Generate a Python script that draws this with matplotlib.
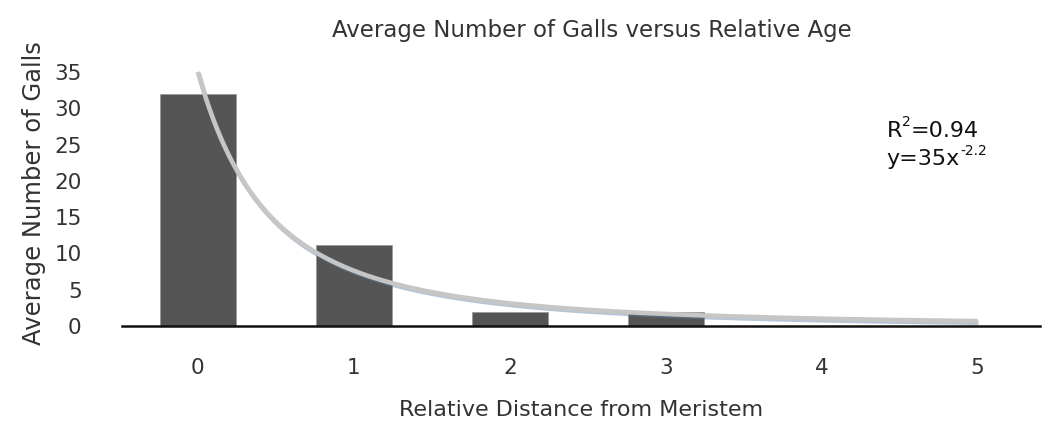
import numpy as np
import matplotlib
matplotlib.use("Agg")
import matplotlib.pyplot as plt
import matplotlib.patheffects as pe

categories = [0, 1, 2, 3, 4, 5]
avg_galls = [32.0, 11.2, 1.9, 1.9, 0.0, 0.0]
y_ticks = [0, 5, 10, 15, 20, 25, 30, 35]

# power trendline y = a * x^b (Excel style, x = category position 1..6)
fit_a = 35
fit_b = "-2.2"
r_squared = "0.94"

plt.rcParams["font.family"] = ["DejaVu Sans"]

fig = plt.figure(figsize=(10.48, 4.24), dpi=100)
ax = fig.add_axes([0.1164, 0.2311, 0.876, 0.625])

ax.bar(categories, avg_galls, width=0.49, color="#555555",
       edgecolor="#9a9a9a", linewidth=0.6, zorder=2)

x_fit = np.linspace(categories[0], categories[-1], 200)
y_fit = fit_a * (x_fit + 1) ** float(fit_b)
ax.plot(x_fit, y_fit, color="#c6c6c6", linewidth=3.3, zorder=3,
        solid_capstyle="butt", clip_on=False,
        path_effects=[pe.SimpleLineShadow(offset=(0.6, -1.2),
                                          shadow_color="#5b7fa8", alpha=0.45),
                      pe.Normal()])

ax.set_xlim(-0.487, 5.4)
ax.set_ylim(0, 36.5)
ax.set_xticks(categories)
ax.set_yticks(y_ticks)
ax.tick_params(length=0, labelsize=15.5, colors="#333333")
ax.tick_params(axis="x", pad=23)
ax.tick_params(axis="y", pad=29)

for s in ["top", "right", "left"]:
    ax.spines[s].set_visible(False)
ax.spines["bottom"].set_linewidth(1.8)
ax.spines["bottom"].set_color("#111111")
ax.spines["bottom"].set_zorder(4)

ax.set_title("Average Number of Galls versus Relative Age", fontsize=16.5,
             color="#333333", pad=17, x=0.512)
ax.set_xlabel("Relative Distance from Meristem", fontsize=16,
              color="#333333", labelpad=16)
ax.set_ylabel("Average Number of Galls", fontsize=17.5, color="#333333",
              labelpad=6)

# trendline annotation with small raised superscripts
r_txt = ax.text(0.833, 0.713, "R", transform=ax.transAxes, fontsize=16,
                color="#111111")
r_sup = ax.annotate("2", xy=(1.0, 0.6), xycoords=r_txt, fontsize=10,
                    color="#111111", va="bottom")
ax.annotate("=" + r_squared, xy=(1.0, 0.0), xycoords=(r_sup, r_txt),
            fontsize=16, color="#111111", va="bottom")
y_txt = ax.text(0.833, 0.607, f"y={fit_a}x", transform=ax.transAxes,
                fontsize=16, color="#111111")
ax.annotate(fit_b, xy=(1.0, 0.55), xycoords=y_txt, fontsize=10,
            color="#111111", va="bottom")

fig.savefig("out.png", dpi=100)
